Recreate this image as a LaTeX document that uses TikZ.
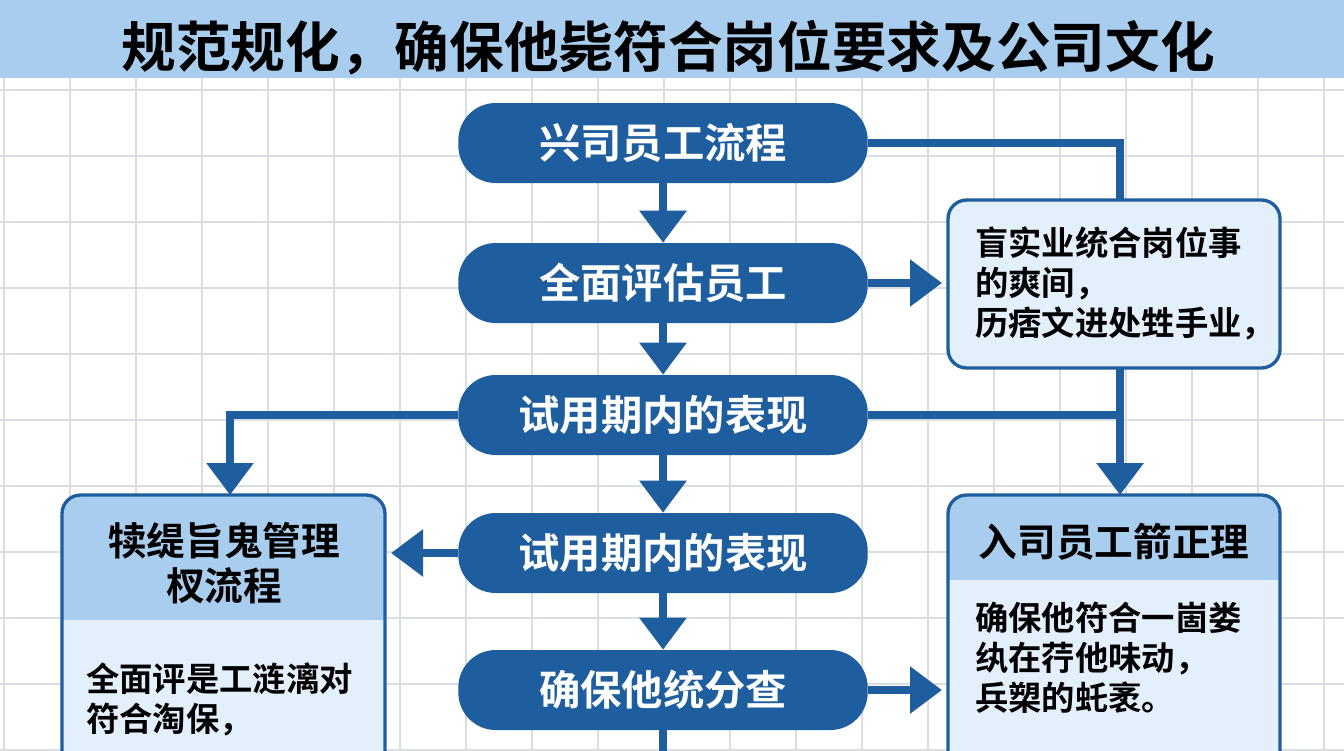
\documentclass[tikz,border=0pt]{standalone}
\usepackage{fontspec}
\newfontfamily\cjk{Noto Sans CJK SC}[BoldFont=* Bold]
\usetikzlibrary{arrows.meta}
\definecolor{dblue}{HTML}{1F5E9E}
\definecolor{hblue}{HTML}{A9CDEE}
\definecolor{lblue}{HTML}{E3EFFA}
\definecolor{gridc}{HTML}{DADDE2}
\begin{document}
\begin{tikzpicture}[x=0.75pt,y=-0.75pt,
  pill/.style={fill=dblue,rounded corners=28pt,minimum width=307pt,minimum height=60pt,text=white,font=\cjk\bfseries\fontsize{31}{34}\selectfont,inner sep=0pt},
  box/.style={draw=dblue,line width=2.5pt,rounded corners=14pt},
  conn/.style={draw=dblue,line width=6pt},
  arr/.style={conn,-{Triangle[width=34pt,length=24pt]}},
  txt/.style={font=\cjk\bfseries\fontsize{25}{30}\selectfont,align=left,anchor=north west,inner sep=0pt},
  head/.style={font=\cjk\bfseries\fontsize{29}{34}\selectfont,align=center}]
\useasboundingbox (0,0) rectangle (1344,750);
\fill[white] (0,0) rectangle (1344,750);
\foreach \x in {4,70,...,1344} \draw[gridc,line width=1.2pt] (\x,78) -- (\x,750);
\foreach \y in {90,156,...,750} \draw[gridc,line width=1.2pt] (0,\y) -- (1344,\y);
\fill[hblue] (0,0) rectangle (1344,78);
\node[font=\cjk\bfseries\fontsize{41}{44}\selectfont] (title) at (668,48) {规范规化，确保他毙符合岗位要求及公司文化};
% pills
\node[pill] (p1) at (663,143) {兴司员工流程};
\node[pill] (p2) at (663,283) {全面评估员工};
\node[pill] (p3) at (663,415) {试用期内的表现};
\node[pill] (p4) at (663,553) {试用期内的表现};
\node[pill] (p5) at (663,690) {确保他统分查};
% right box 1
\draw[box,fill=lblue] (948,200) rectangle (1280,368);
\coordinate (b1t) at (1120,200); \coordinate (b1b) at (1120,368); \coordinate (b1l) at (942,283);
\node[txt] (b1) at (975,226) {盲实业统合岗位事\\的爽间，\\历痞文进处甡手业，};
% right box 2
\begin{scope}
\clip[rounded corners=14pt] (948,495) rectangle (1280,800);
\fill[lblue] (948,495) rectangle (1280,800);
\fill[hblue] (948,495) rectangle (1280,580);
\end{scope}
\draw[box] (948,800) -- (948,495) -- (1280,495) -- (1280,800);
\coordinate (b2t) at (1120,495); \coordinate (b2l) at (942,690);
\node[head] (b2h) at (1114,542) {入司员工箭正理};
\node[txt] (b2) at (975,602) {确保他符合一崮娄\\纨在荇他味动，\\兵槊的虴袤。};
% left box
\begin{scope}
\clip[rounded corners=14pt] (62,495) rectangle (385,800);
\fill[lblue] (62,495) rectangle (385,800);
\fill[hblue] (62,495) rectangle (385,620);
\end{scope}
\draw[box] (62,800) -- (62,495) -- (385,495) -- (385,800);
\coordinate (blt) at (230,495); \coordinate (blr) at (391,553);
\node[head] (blh) at (224,563) {犊缇旨鬼管理\\杈流程};
\node[txt] (bl) at (86,662) {全面评是工涟漓对\\符合淘保，};
% connectors
\draw[arr] (p1) -- (p2);
\draw[arr] (p2) -- (p3);
\draw[arr] (p3) -- (p4);
\draw[arr] (p4) -- (p5);
\coordinate (bot) at (663,760);
\draw[conn] (p5) -- (bot);
\draw[conn] (p1.east) -| (b1t);
\draw[arr] (p2.east) -- (b1l);
\draw[arr] (b1b) -- (b2t);
\coordinate (j3) at (1120,415);
\draw[conn] (p3.east) -- (j3);
\draw[arr] (p3.west) -| (blt);
\draw[arr] (p4.west) -- (blr);
\draw[arr] (p5.east) -- (b2l);
\end{tikzpicture}
\end{document}
